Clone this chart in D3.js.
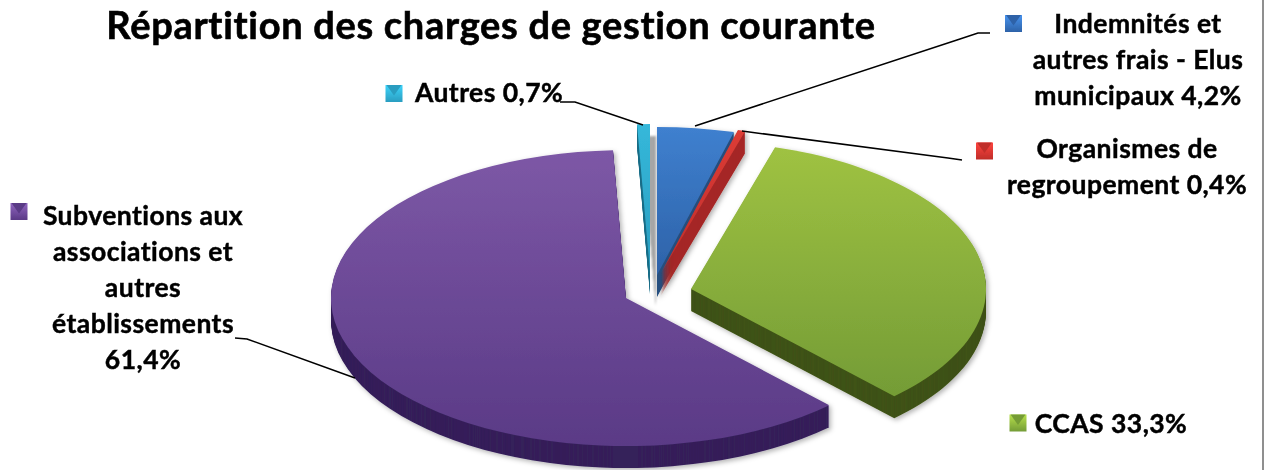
<!DOCTYPE html>
<html><head><meta charset="utf-8">
<script src="https://cdn.jsdelivr.net/npm/d3@7/dist/d3.min.js"></script>
<style>html,body{margin:0;padding:0;background:#fff}svg{display:block}text{font-variant-ligatures:none}</style>
</head><body><svg id="c" width="1264" height="470"></svg>
<script>
const categories = ["Indemnités et autres frais - Elus municipaux","Organismes de regroupement","CCAS","Subventions aux associations et autres établissements","Autres"];
const values = [4.2,0.4,33.3,61.4,0.7];
const labelLines = [
  ["Indemnités et","autres frais - Elus","municipaux 4,2%"],
  ["Organismes de","regroupement 0,4%"],
  ["CCAS 33,3%"],
  ["Subventions aux","associations et","autres","établissements","61,4%"],
  ["Autres 0,7%"]];
const titleText = "Répartition des charges de gestion courante";
// layout (not data)
const apex = [[657,275],[661,273],[691,289],[626,298],[650,272]];
const topColors = [["#3f80cf","#2d62a8"],["#dc3c36","#c02d2a"],["#9fc242","#749c36"],["#7d58a6","#5a3a86"],["#35b8da","#2a9dc0"]];
const wallColors = ["#27507f","#a52826","#3f5215","#35205a","#1d6f88"];
const markerAnchors = [[1013.5,23.5],[984.5,151],[1018,423],[19,211.5],[394,93.5]];
const labelCenters = [[1138,25],[1127,150],[1111,425],[143,217],[489,94]];
const leaders = [
  [[695,126],[960,39],[978,33],[990,33]],
  [[742,131],[948,158],[962,160]],
  [[355,378],[247,339],[235,338]],
  [[643,125],[575,102],[560,102]]];
const rx = 295, ry = 148, depth = 22;
const paintOrder = [4,0,1,2,3];

const svg = d3.select("#c");
const defs = svg.append("defs");
topColors.forEach((c,i)=>{
  const g = defs.append("linearGradient").attr("id","g"+i).attr("x1",0).attr("x2",0).attr("y1",0).attr("y2",1);
  g.append("stop").attr("offset",0).attr("stop-color",c[0]);
  g.append("stop").attr("offset",1).attr("stop-color",c[1]);
  const m = defs.append("linearGradient").attr("id","m"+i).attr("x1",0).attr("x2",0).attr("y1",0).attr("y2",1);
  m.append("stop").attr("offset",0).attr("stop-color",d3.color(c[0]).brighter(.4));
  m.append("stop").attr("offset",1).attr("stop-color",c[1]);
});
const f = defs.append("filter").attr("id","soft").attr("x","-5%").attr("y","-5%").attr("width","110%").attr("height","110%");
f.append("feDropShadow").attr("dx",2).attr("dy",2).attr("stdDeviation",2.5).attr("flood-color","#000").attr("flood-opacity",.3);
const f2 = defs.append("filter").attr("id","cast").attr("x","-100%").attr("y","-5%").attr("width","300%").attr("height","120%");
f2.append("feDropShadow").attr("dx",6).attr("dy",12).attr("stdDeviation",1).attr("flood-color","#000").attr("flood-opacity",.35);
const b = defs.append("filter").attr("id","blur");
b.append("feGaussianBlur").attr("stdDeviation",.6);
const tb = defs.append("filter").attr("id","tblur");
tb.append("feGaussianBlur").attr("stdDeviation",.35);

const arcs = d3.pie().sort(null).value(d=>d)(values);
const arcGen = d3.arc().innerRadius(0).outerRadius(rx);
const kScale = ry/rx;

const pieG = svg.append("g").attr("filter","url(#blur)");
paintOrder.forEach(i=>{
  const sl = pieG.append("g").attr("filter", i===4 ? "url(#cast)" : "url(#soft)");
  d3.range(depth,0,-1).forEach(dz=>{
    sl.append("path").attr("d",arcGen(arcs[i]))
      .attr("transform",`translate(${apex[i][0]},${apex[i][1]+dz}) scale(1,${kScale})`)
      .attr("fill",wallColors[i]);
  });
  sl.append("path").attr("d",arcGen(arcs[i]))
    .attr("transform",`translate(${apex[i][0]},${apex[i][1]}) scale(1,${kScale})`)
    .attr("fill",`url(#g${i})`);
});

const line = d3.line();
svg.append("g").selectAll("path").data(leaders).join("path")
  .attr("d",line).attr("fill","none").attr("stroke","#000").attr("stroke-width",1.5);

const textG = svg.append("g").attr("filter","url(#tblur)");
textG.append("text").attr("x",491).attr("y",39).attr("text-anchor","middle")
  .attr("font-family","Lato").attr("font-weight",700).attr("font-size",38).attr("letter-spacing",.7)
  .attr("stroke","#000").attr("stroke-width",.6).attr("fill","#000").text(titleText);

const lab = textG.append("g").attr("font-family","Lato").attr("font-weight",700).attr("font-size",26.5).attr("letter-spacing",.45)
  .attr("stroke","#000").attr("stroke-width",.45).attr("fill","#000");
labelLines.forEach((ls,i)=>{
  const t = lab.append("text").attr("text-anchor","middle");
  ls.forEach((s,j)=>{
    t.append("tspan").attr("x",labelCenters[i][0]).attr("y",labelCenters[i][1]+8+j*36).text(s);
  });
});

const mk = svg.append("g").attr("filter","url(#blur)");
markerAnchors.forEach((p,i)=>{
  const s = 8.5;
  const g = mk.append("g").attr("transform",`translate(${p[0]},${p[1]})`);
  g.append("rect").attr("x",-s).attr("y",-s).attr("width",2*s).attr("height",2*s)
    .attr("fill",`url(#m${i})`);
  g.append("path").attr("d",d3.line()([[-s+1,-s],[s-1,-s],[0,2]])).attr("fill",topColors[i][1]);
});

svg.append("rect").attr("x",1262).attr("y",0).attr("width",2).attr("height",470).attr("fill","#8f8f8f");
</script></body></html>
